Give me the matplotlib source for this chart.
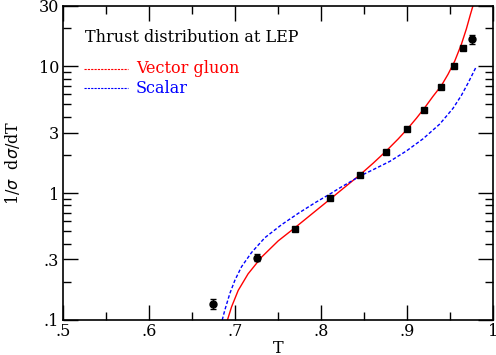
import matplotlib
matplotlib.use("Agg")
import matplotlib.pyplot as plt
import numpy as np

plt.rcParams['font.family'] = ['DejaVu Serif']

# data
t_data = [0.674, 0.725, 0.770, 0.810, 0.845, 0.875, 0.900, 0.920, 0.940, 0.955, 0.965, 0.975]
v_data = [0.134, 0.31, 0.525, 0.92, 1.39, 2.10, 3.2, 4.55, 6.9, 10.0, 13.9, 16.4]
e_data = [0.012, 0.02, 0.01, 0.02, 0.03, 0.04, 0.06, 0.08, 0.12, 0.2, 0.4, 1.35]

# vector gluon curve
t_vector = [0.691, 0.6958, 0.7035, 0.715, 0.7307, 0.750, 0.7694, 0.7927, 0.812,
            0.8256, 0.8314, 0.845, 0.8605, 0.8752, 0.8896, 0.9005, 0.911, 0.9206,
            0.930, 0.940, 0.9477, 0.9555, 0.9632, 0.969, 0.9737, 0.9767]
v_vector = [0.1, 0.127, 0.171, 0.231, 0.313, 0.42, 0.533, 0.716, 0.914,
            1.087, 1.17, 1.39, 1.72, 2.13, 2.67, 3.21, 3.90, 4.72,
            5.77, 7.05, 8.65, 11.0, 14.9, 19.7, 25.6, 30.0]

# scalar curve
t_scalar = [0.6849, 0.688, 0.6938, 0.6997, 0.7074, 0.719, 0.7345, 0.754, 0.7733,
            0.7927, 0.812, 0.8218, 0.8314, 0.845, 0.8605, 0.880, 0.8993, 0.9186,
            0.938, 0.9535, 0.9632, 0.971, 0.9767, 0.9807]
v_scalar = [0.1, 0.120, 0.162, 0.206, 0.263, 0.340, 0.445, 0.564, 0.692,
            0.838, 1.0, 1.10, 1.20, 1.36, 1.53, 1.78, 2.15, 2.68,
            3.50, 4.66, 5.89, 7.38, 8.81, 9.98]

x_ticks = [0.5, 0.6, 0.7, 0.8, 0.9, 1.0]
x_labels = ['.5', '.6', '.7', '.8', '.9', '1']
y_ticks = [0.1, 0.3, 1, 3, 10, 30]
y_labels = ['.1', '.3', '1', '3', '10', '30']
y_minor = [0.2, 0.4, 0.5, 0.6, 0.7, 0.8, 0.9, 2, 4, 5, 6, 7, 8, 9, 20]

fig = plt.figure(figsize=(4.96, 3.55), dpi=100)
ax = fig.add_axes([0.1276, 0.0986, 0.8664, 0.8854])

ax.plot(t_vector, v_vector, color='red', lw=1.0)
ax.plot(t_scalar, v_scalar, color='blue', lw=1.0, dashes=(2.5, 1.5))

circ = [0, 1, 11]
for i in range(len(t_data)):
    m = 'o' if i in circ else 's'
    ax.errorbar(t_data[i], v_data[i], yerr=e_data[i], fmt=m, color='black',
                ms=5, capsize=2.5, elinewidth=1, capthick=1)

ax.set_yscale('log')
ax.set_xlim(0.5, 1.0)
ax.set_ylim(0.1, 30)
ax.set_xticks(x_ticks)
ax.set_xticklabels(x_labels)
ax.set_xticks(np.arange(0.55, 1.0, 0.1), minor=True)
ax.set_yticks(y_ticks)
ax.set_yticklabels(y_labels)
ax.set_yticks(y_minor, minor=True)
ax.yaxis.set_minor_formatter(matplotlib.ticker.NullFormatter())
ax.tick_params(which='both', direction='in', top=True, right=True, labelsize=11.5, width=1)
ax.tick_params(which='major', length=11)
ax.tick_params(axis='x', which='major', pad=2)
ax.tick_params(axis='y', which='major', pad=3)
ax.tick_params(which='minor', length=5.5)
for s in ax.spines.values():
    s.set_linewidth(1.2)

ax.set_xlabel('T', fontsize=11.5, labelpad=0)
ax.set_ylabel(r'1/$\sigma$  d$\sigma$/dT', fontsize=11.5, labelpad=12)

ax.text(0.05, 0.900, 'Thrust distribution at LEP', transform=ax.transAxes,
        fontsize=11.5, va='center')
ax.plot([0.048, 0.150], [0.799, 0.799], transform=ax.transAxes, color='red', lw=0.8, dashes=(2, 1))
ax.plot([0.048, 0.150], [0.738, 0.738], transform=ax.transAxes, color='blue', lw=0.8, dashes=(2, 1))
ax.text(0.169, 0.799, 'Vector gluon', transform=ax.transAxes, color='red', fontsize=11.5, va='center')
ax.text(0.169, 0.738, 'Scalar', transform=ax.transAxes, color='blue', fontsize=11.5, va='center')

fig.savefig('out.png', dpi=100)
